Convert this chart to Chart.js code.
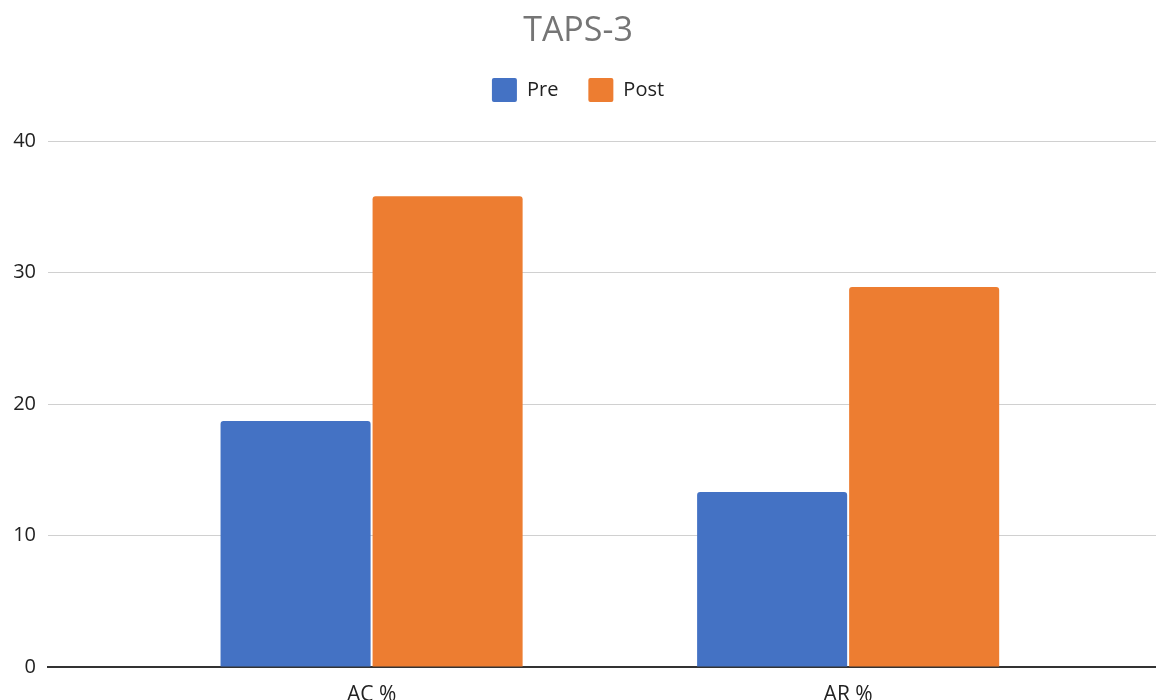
<!DOCTYPE html>
<html>
<head>
<meta charset="utf-8">
<script src="https://cdn.jsdelivr.net/npm/chart.js@4"></script>
<style>
  html, body { margin: 0; padding: 0; background: #ffffff; }
  #wrap { width: 1156px; height: 700px; }
</style>
</head>
<body>
<div id="wrap"><canvas id="chart" width="1156" height="700"></canvas></div>
<script>
// TAPS-3 scores before and after
const categories = ['AC %', 'AR %'];
const preValues = [18.7, 13.3];
const postValues = [35.8, 28.9];
const yTicks = [0, 10, 20, 30, 40];

const FONT = '"Open Sans", "Liberation Sans", sans-serif';

// bars sit on a numeric index axis so the plot can extend past the groups
const toPoints = vals => vals.map((v, i) => ({ x: i, y: v }));

// empty layout box that leaves breathing room between legend and plot
const legendGap = {
  id: 'legendGap',
  beforeInit(chart, args, opts) {
    Chart.layouts.addBox(chart, {
      position: 'top',
      weight: 100,
      fullSize: true,
      options: {},
      isHorizontal() { return true; },
      update(maxWidth) { this.width = maxWidth; this.height = opts.size || 0; },
      draw() {}
    });
  }
};

new Chart(document.getElementById('chart'), {
  type: 'bar',
  plugins: [legendGap],
  data: {
    datasets: [
      {
        label: 'Pre',
        data: toPoints(preValues),
        backgroundColor: '#4472C4',
        borderRadius: { topLeft: 3, topRight: 3 },
        borderSkipped: 'bottom',
        categoryPercentage: 0.638,
        barPercentage: 0.987
      },
      {
        label: 'Post',
        data: toPoints(postValues),
        backgroundColor: '#ED7D31',
        borderRadius: { topLeft: 3, topRight: 3 },
        borderSkipped: 'bottom',
        categoryPercentage: 0.638,
        barPercentage: 0.987
      }
    ]
  },
  options: {
    responsive: false,
    animation: false,
    layout: { padding: 0 },
    plugins: {
      title: {
        display: true,
        text: 'TAPS-3',
        color: '#757575',
        font: { family: FONT, size: 34, weight: 'normal', lineHeight: 1.0 },
        padding: { top: 14, bottom: 0 }
      },
      legend: {
        display: true,
        labels: {
          color: '#222222',
          font: { family: FONT, size: 20 },
          boxWidth: 25,
          boxHeight: 24,
          padding: 30,
          useBorderRadius: true,
          borderRadius: 2
        }
      },
      legendGap: { size: 29 },
      tooltip: { enabled: false }
    },
    scales: {
      x: {
        type: 'linear',
        offset: false,
        min: -0.679,
        max: 1.646,
        z: 1,
        afterBuildTicks: s => { s.ticks = categories.map((_, i) => ({ value: i })); },
        afterFit: s => { s.height = 33; },
        ticks: {
          color: '#222222',
          font: { family: FONT, size: 21 },
          padding: 15,
          autoSkip: false,
          maxRotation: 0,
          callback: v => categories[v] ?? ''
        },
        grid: { display: false, drawTicks: false, offset: false },
        border: { display: true, color: '#333333', width: 2 }
      },
      y: {
        min: 0,
        max: 40,
        afterBuildTicks: s => { s.ticks = yTicks.map(v => ({ value: v })); },
        afterFit: s => { s.width = 48; },
        ticks: {
          color: '#222222',
          font: { family: FONT, size: 20 },
          padding: 12
        },
        grid: {
          drawTicks: false,
          color: c => (c.tick && c.tick.value === 0) ? 'rgba(0,0,0,0)' : '#d0d0d0',
          lineWidth: 1
        },
        border: { display: false }
      }
    }
  }
});
</script>
</body>
</html>
